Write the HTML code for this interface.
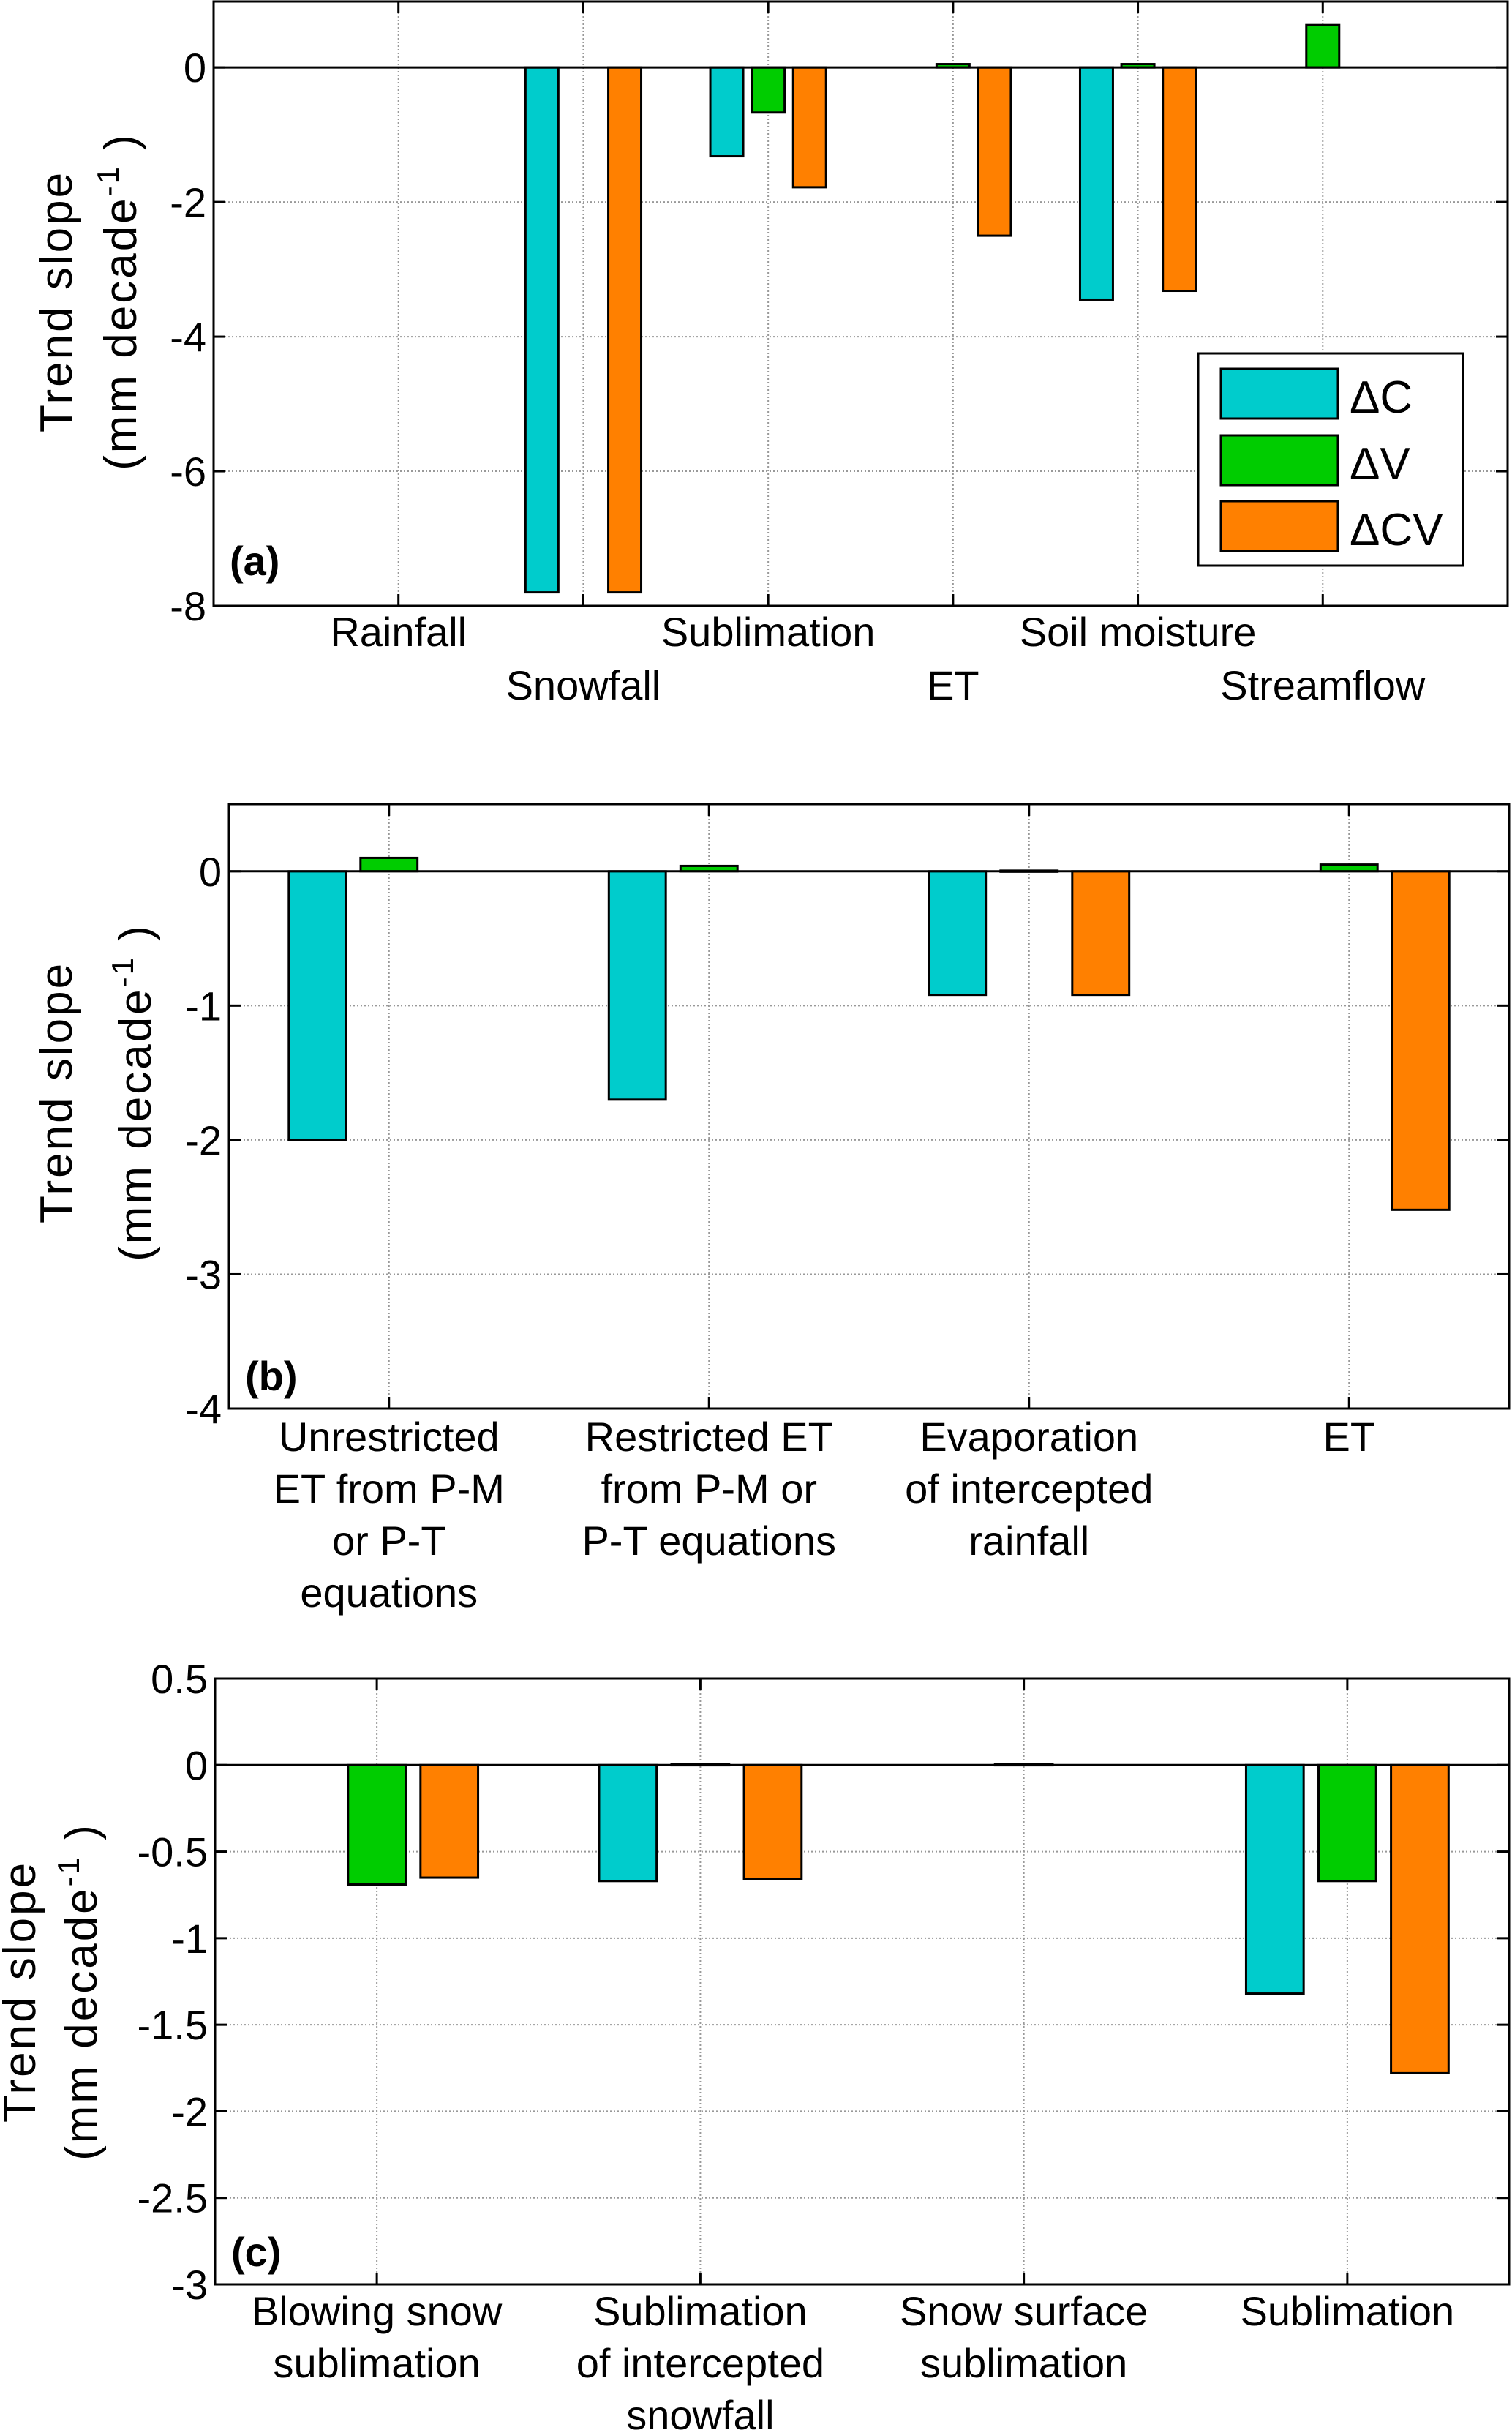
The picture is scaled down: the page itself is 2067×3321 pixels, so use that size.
<!DOCTYPE html>
<html><head><meta charset="utf-8"><style>
html,body{margin:0;padding:0;background:#fff;}
svg{display:block;}
text{font-family:"Liberation Sans",sans-serif;fill:#000;}
.tk{font-family:"Liberation Sans Narrow","Liberation Sans",sans-serif;font-size:56px;}
.cat{font-family:"Liberation Sans Narrow","Liberation Sans",sans-serif;font-size:56px;}
.yl{font-size:62px;letter-spacing:3px;}
</style></head><body>
<svg id="fig" width="2067" height="3321" viewBox="0 0 2067 3321" xmlns="http://www.w3.org/2000/svg"></svg>
<script>
// Panel (a)
const catsA = [["Rainfall"],["Snowfall"],["Sublimation"],["ET"],["Soil moisture"],["Streamflow"]];
const dC_A  = [0, -7.8, -1.32, 0, -3.45, 0];
const dV_A  = [0, 0, -0.67, 0.05, 0.05, 0.63];
const dCV_A = [0, -7.8, -1.78, -2.5, -3.32, 0];
const ticksA = [0, -2, -4, -6, -8];
// Panel (b)
const catsB = [["Unrestricted","ET from P-M","or P-T","equations"],["Restricted ET","from P-M or","P-T equations"],["Evaporation","of intercepted","rainfall"],["ET"]];
const dC_B  = [-2.0, -1.7, -0.92, 0];
const dV_B  = [0.1, 0.04, 0.005, 0.05];
const dCV_B = [0, 0, -0.92, -2.52];
const ticksB = [0, -1, -2, -3, -4];
// Panel (c)
const catsC = [["Blowing  snow","sublimation"],["Sublimation","of intercepted","snowfall"],["Snow surface","sublimation"],["Sublimation"]];
const dC_C  = [0, -0.67, 0, -1.32];
const dV_C  = [-0.69, 0.005, 0.005, -0.67];
const dCV_C = [-0.65, -0.66, 0, -1.78];
const ticksC = [0.5, 0, -0.5, -1, -1.5, -2, -2.5, -3];

const NS = "http://www.w3.org/2000/svg";
const svg = document.getElementById('fig');
const COLORS = ["#00CCCC", "#00CC00", "#FF8000"];
function el(tag, attrs, parent) {
  const e = document.createElementNS(NS, tag);
  for (const k in attrs) e.setAttribute(k, attrs[k]);
  (parent || svg).appendChild(e);
  return e;
}
function panel(o) {
  const g = el('g', {});
  
  
  const xs = v => o.L + (v - o.x0) / (o.x1 - o.x0) * (o.R - o.L);
  const ys = v => o.T + (o.y1 - v) / (o.y1 - o.y0) * (o.B - o.T);
  const n = o.cats.length;
  for (let i = 0; i < n; i++) {
    const x = xs(i + 1);
    const gl = el('line', {x1:x, x2:x, y1:o.T, y2:o.B, stroke:'#999', 'stroke-width':2, 'stroke-dasharray':'2,3'}, g);
    
    
    const t1 = el('line', {x1:x, x2:x, y1:o.B, y2:o.B-16, stroke:'#000', 'stroke-width':3}, g);
    
    
    el('line', {x1:x, x2:x, y1:o.T, y2:o.T+16, stroke:'#000', 'stroke-width':3}, g);
  }
  o.ticks.forEach(v => {
    const y = ys(v);
    const gl = el('line', {x1:o.L, x2:o.R, y1:y, y2:y, stroke:'#999', 'stroke-width':2, 'stroke-dasharray':'2,3'}, g);
    
    
    el('line', {x1:o.L, x2:o.L+16, y1:y, y2:y, stroke:'#000', 'stroke-width':3}, g);
    el('line', {x1:o.R, x2:o.R-16, y1:y, y2:y, stroke:'#000', 'stroke-width':3}, g);
    const t = el('text', {x:o.L-10, y:y+20, 'text-anchor':'end', class:'tk'}, g);
    t.textContent = String(v);
    
    
  });
  const offs = [-0.224, 0, 0.224], w = 0.178;
  o.series.forEach((s, si) => {
    s.forEach((v, i) => {
      if (v === 0) return;
      const cx = i + 1 + offs[si];
      const x0 = xs(cx - w/2), x1 = xs(cx + w/2);
      const ya = ys(Math.max(v, 0)), yb = ys(Math.min(v, 0));
      const r = el('rect', {x:x0, y:ya, width:x1-x0, height:Math.max(yb-ya,1.5), fill:COLORS[si], stroke:'#000', 'stroke-width':3}, g);
      
      
    });
  });
  const z = el('line', {x1:o.L, x2:o.R, y1:ys(0), y2:ys(0), stroke:'#000', 'stroke-width':3}, g);
  
  
  const f = el('rect', {x:o.L, y:o.T, width:o.R-o.L, height:o.B-o.T, fill:'none', stroke:'#000', 'stroke-width':3}, g);
  
  
  o.cats.forEach((lines, i) => {
    const x = xs(i + 1);
    lines.forEach((ln, li) => {
      const y = o.stagger ? o.catY[i % 2] : o.catY[0] + li * o.lineH;
      const t = el('text', {x:x, y:y, 'text-anchor':'middle', class:'cat'}, g);
      t.textContent = ln;
      
      
    });
  });
  const lt = el('text', {x:o.L+22, y:o.letterY, 'font-size':66, 'font-weight':'bold', class:'cat'}, g);
  lt.textContent = o.letter;
  
  
  const yl1 = el('text', {x:0, y:0, 'text-anchor':'middle', class:'yl', transform:`translate(${o.ylx[0]},${o.ylc}) rotate(-90)`}, g);
  yl1.textContent = 'Trend slope';
  
  
  const yl2 = el('text', {x:0, y:0, 'text-anchor':'middle', class:'yl', transform:`translate(${o.ylx[1]},${o.ylc}) rotate(-90)`}, g);
  yl2.innerHTML = '(mm decade<tspan dy="-24" font-size="42">-1</tspan><tspan dy="24"> )</tspan>';
  
  
}
panel({name:'panel-a', L:292, R:2061, T:2, B:828, x0:0, x1:7, y0:-8, y1:0.98,
  cats:catsA, series:[dC_A,dV_A,dCV_A], ticks:ticksA, stagger:true, catY:[883,956], lineH:0,
  letter:'(a)', letterY:786, ylx:[98,186], ylc:412});
panel({name:'panel-b', L:313, R:2063, T:1099, B:1925, x0:0.5, x1:4.5, y0:-4, y1:0.5,
  cats:catsB, series:[dC_B,dV_B,dCV_B], ticks:ticksB, stagger:false, catY:[1983], lineH:71,
  letter:'(b)', letterY:1900, ylx:[98,206], ylc:1493});
panel({name:'panel-c', L:294, R:2063, T:2294, B:3122, x0:0.5, x1:4.5, y0:-3, y1:0.5,
  cats:catsC, series:[dC_C,dV_C,dCV_C], ticks:ticksC, stagger:false, catY:[3178], lineH:71,
  letter:'(c)', letterY:3097, ylx:[48,132], ylc:2722});
const lg = el('g', {});


el('rect', {x:1638, y:483, width:362, height:290, fill:'#fff', stroke:'#000', 'stroke-width':3}, lg);
const names = ['\u0394C', '\u0394V', '\u0394CV'];
const lys = [504, 595, 685];
names.forEach((nm, i) => {
  const r = el('rect', {x:1669, y:lys[i], width:160, height:68, fill:COLORS[i], stroke:'#000', 'stroke-width':3}, lg);
  
  
  const t = el('text', {x:1845, y:lys[i]+60, 'font-size':62}, lg);
  t.textContent = nm;
  
  
});
</script>
</body></html>
